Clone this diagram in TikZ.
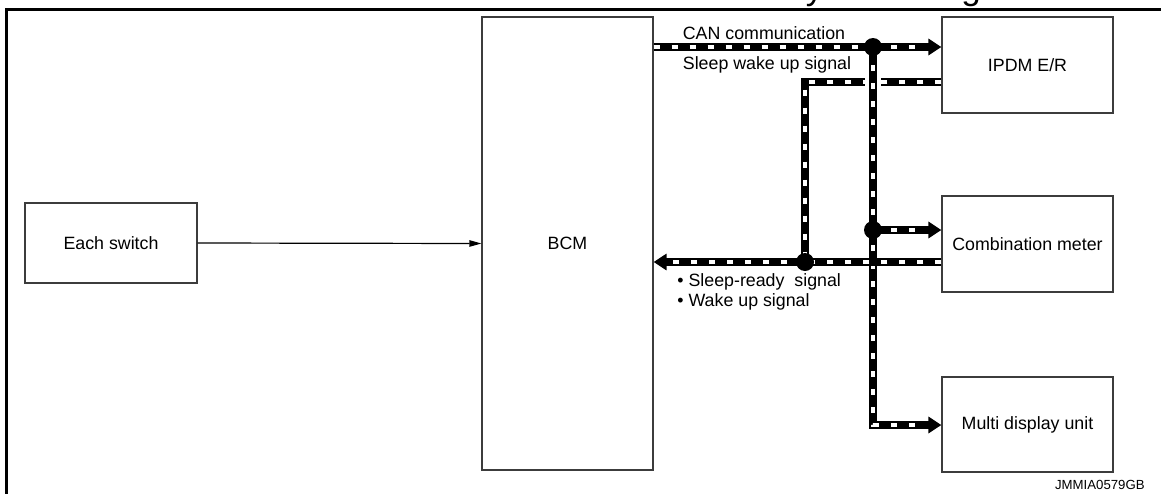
\documentclass[tikz,border=0pt]{standalone}
\usepackage{fontspec}
\setmainfont{Liberation Sans}
\usepackage{tikz}
\usetikzlibrary{arrows.meta, positioning}
\definecolor{boxgray}{RGB}{60,60,60}

\begin{document}
\begin{tikzpicture}[x=0.5pt, y=-0.5pt,
  unit/.style={draw=boxgray, line width=0.6pt, minimum width=85.5pt, minimum height=48pt, inner sep=0pt, font=\fontsize{8.9}{10}\selectfont},
  lbl/.style={inner sep=0pt, font=\fontsize{8.9}{10}\selectfont},
  bus/.style={line width=4pt, postaction={draw=white, line width=1.6pt, dash pattern=on 3pt off 6pt}},
  busarrow/.style={line width=4pt, -{Triangle[length=6.5pt, width=8pt]}, postaction={draw=white, line width=1.6pt, dash pattern=on 3pt off 6pt, -, shorten >=7.5pt}},
  halo/.style={preaction={draw=white, line width=8pt, -}},
  junction/.style={circle, fill=black, inner sep=0pt, minimum size=9pt}]

  \useasboundingbox (0,0) rectangle (1161,493);

  % Page frame and cut-off heading
  \node[anchor=base west, inner sep=0pt, font=\fontsize{17.5}{20}\selectfont] (heading) at (782,-1) {System Diagram};
  \draw[line width=1.6pt] (6.5,495) -- (6.5,9.5) -- (1163,9.5);

  % Units
  \node[unit, minimum width=86pt, minimum height=40pt] (switches) at (111,243) {Each switch};
  \node[unit, minimum height=226.5pt] (bcm) at (567.5,243.5) {BCM};
  \node[unit] (ipdm) at (1027.5,65) {IPDM E/R};
  \node[unit] (meter) at (1027.5,244) {Combination meter};
  \node[unit, minimum height=47.5pt] (mdu) at (1027.5,424.5) {Multi display unit};

  % Switch input
  \draw[line width=0.6pt, -{Triangle[length=6pt, width=3.2pt]}] (switches.east) -- (bcm.west);

  % Bus points
  \coordinate (canjoint) at (873,47);
  \coordinate (meterjoint) at (873,230);
  \coordinate (busend) at (873,425);
  \coordinate (sleepcorner) at (805,82);
  \coordinate (readyjoint) at (805,262);

  % CAN communication
  \draw[bus] (bcm.east |- canjoint) -- (canjoint);
  \draw[busarrow] (canjoint) -- (ipdm.west |- canjoint);

  % Sleep wake up signal
  \draw[bus] (ipdm.west |- sleepcorner) -- (sleepcorner) -- (readyjoint);

  % Bus to meter and display
  \draw[busarrow, halo] (canjoint) -- (busend) -- (mdu.west |- busend);
  \draw[busarrow] (meterjoint) -- (meter.west |- meterjoint);

  % Sleep-ready / wake up signal back to BCM
  \draw[bus] (meter.west |- readyjoint) -- (readyjoint);
  \draw[busarrow] (readyjoint) -- (bcm.east |- readyjoint);

  \node[junction] (dotcan) at (canjoint) {};
  \node[junction] (dotmeter) at (meterjoint) {};
  \node[junction] (dotready) at (readyjoint) {};

  % Labels
  \node[lbl] (canlbl) at (764,33) {CAN communication};
  \node[lbl] (sleeplbl) at (767,65) {Sleep wake up signal};
  \node[lbl, anchor=west] (readylbl) at (677,282) {\textbullet\ Sleep-ready\ \ signal};
  \node[lbl, anchor=west] (wakelbl) at (677,302) {\textbullet\ Wake up signal};
  \node[inner sep=0pt, anchor=east, font=\fontsize{6.6}{8}\selectfont] (figid) at (1145,485) {JMMIA0579GB};
\end{tikzpicture}
\end{document}
